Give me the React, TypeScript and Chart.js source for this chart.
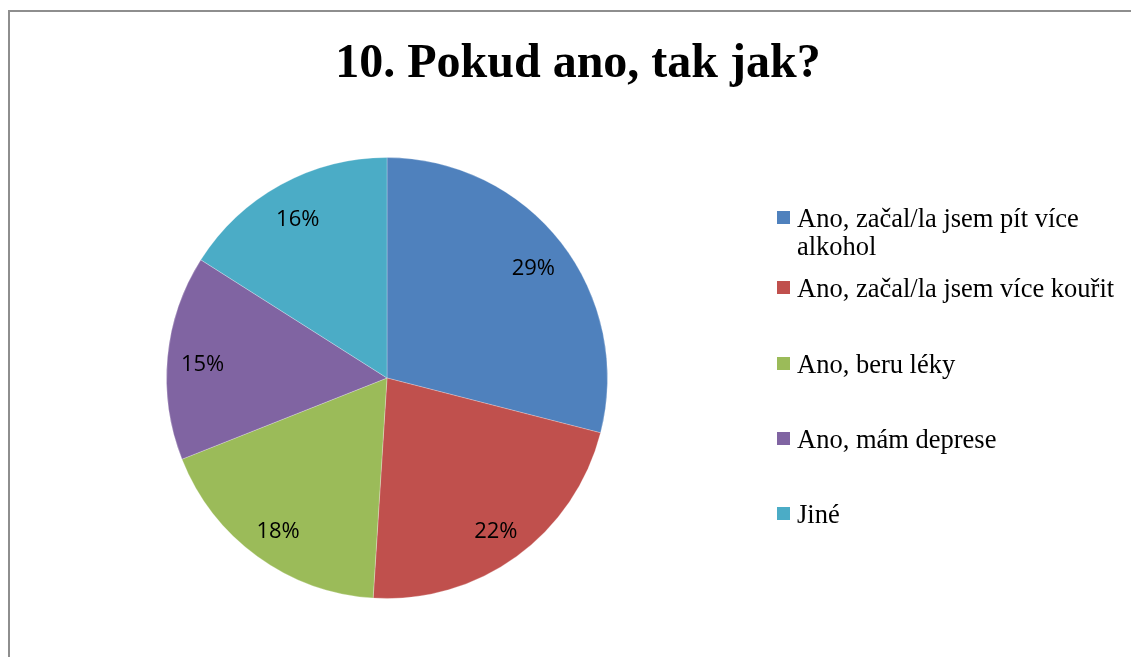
import React, { useEffect, useRef } from "react";
import { Chart, registerables } from "chart.js";

Chart.register(...registerables);

const chartTitle = "10. Pokud ano, tak jak?";
const categories = [
  "Ano, začal/la jsem pít více alkohol",
  "Ano, začal/la jsem více kouřit",
  "Ano, beru léky",
  "Ano, mám deprese",
  "Jiné",
];
const legendLines = [
  ["Ano, začal/la jsem pít více", "alkohol"],
  ["Ano, začal/la jsem více kouřit"],
  ["Ano, beru léky"],
  ["Ano, mám deprese"],
  ["Jiné"],
];
const values = [29, 22, 18, 15, 16];
const colors = ["#4F81BD", "#C0504D", "#9BBB59", "#8064A2", "#4BACC6"];

const CANVAS_W = 1136;
const CANVAS_H = 660;
const LEGEND_BASELINES = [215, 285, 361, 436, 511];
const LEGEND_LINE_STEP = 28;

const overlayPlugin = {
  id: "overlay",
  afterDraw(chart: any) {
    const ctx = chart.ctx;
    ctx.save();
    // title
    ctx.fillStyle = "#000";
    ctx.font = "bold 48px 'Liberation Serif', 'Times New Roman', serif";
    ctx.textAlign = "center";
    ctx.textBaseline = "alphabetic";
    ctx.fillText(chartTitle, CANVAS_W / 2, 65);

    // data labels
    const meta = chart.getDatasetMeta(0);
    const total = values.reduce((a, b) => a + b, 0);
    ctx.font = "22px 'Open Sans', sans-serif";
    ctx.textBaseline = "middle";
    meta.data.forEach((arc: any, i: number) => {
      const p = arc.getProps(["x", "y", "startAngle", "endAngle", "outerRadius"], true);
      const mid = (p.startAngle + p.endAngle) / 2;
      const r = p.outerRadius * 0.84;
      const tx = p.x + Math.cos(mid) * r;
      const ty = p.y + Math.sin(mid) * r + 4;
      ctx.fillText(Math.round((values[i] / total) * 100) + "%", tx, ty);
    });

    // legend
    ctx.textAlign = "left";
    ctx.textBaseline = "alphabetic";
    ctx.font = "26.5px 'Liberation Serif', 'Times New Roman', serif";
    legendLines.forEach((lines, i) => {
      const b = LEGEND_BASELINES[i];
      ctx.fillStyle = colors[i];
      ctx.fillRect(767, b - 16, 13, 13);
      ctx.fillStyle = "#000";
      lines.forEach((ln, j) => ctx.fillText(ln, 787, b + j * LEGEND_LINE_STEP));
    });
    ctx.restore();
  },
};

export default function App() {
  const ref = useRef<HTMLCanvasElement | null>(null);
  useEffect(() => {
    if (!ref.current) return;
    const chart = new Chart(ref.current, {
      type: "pie",
      data: {
        labels: categories,
        datasets: [
          {
            data: values,
            backgroundColor: colors,
            borderColor: "rgba(255,255,255,0.25)",
            borderWidth: 1,
          },
        ],
      },
      options: {
        responsive: false,
        animation: false,
        events: [],
        layout: { padding: { left: 156, top: 145, right: 538, bottom: 73 } },
        plugins: {
          legend: { display: false },
          title: { display: false },
          tooltip: { enabled: false },
        },
      },
      plugins: [overlayPlugin],
    });
    return () => chart.destroy();
  }, []);

  return (
    <div style={{ position: "fixed", left: 0, top: 0, width: 1131, height: 657, overflow: "hidden", background: "#fff" }}>
      <div
        style={{
          position: "absolute",
          left: 8,
          top: 10,
          width: 1200,
          height: 700,
          border: "2px solid #8e8e8e",
          boxSizing: "border-box",
        }}
      />
      <canvas
        ref={ref}
        width={CANVAS_W}
        height={CANVAS_H}
        style={{ position: "absolute", left: 10, top: 12, width: CANVAS_W, height: CANVAS_H }}
      />
    </div>
  );
}
